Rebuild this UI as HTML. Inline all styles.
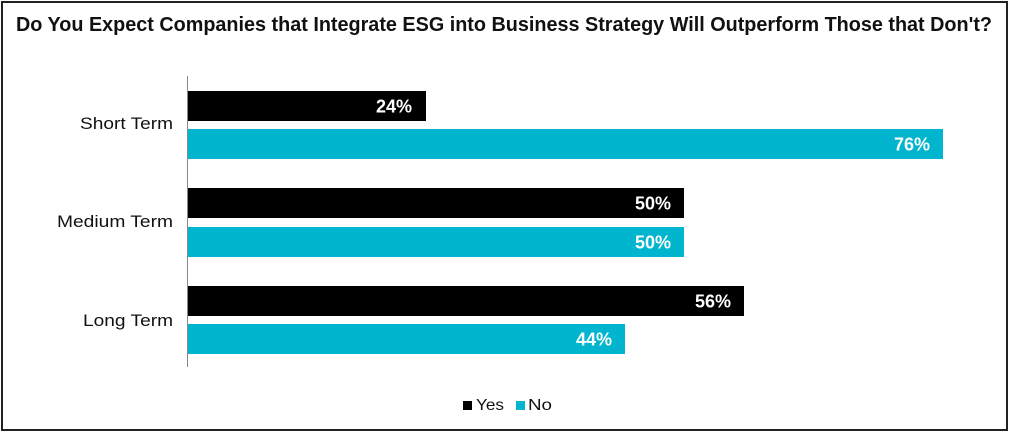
<!DOCTYPE html>
<html><head><meta charset="utf-8"><style>
html,body{margin:0;padding:0;background:#fff;}
svg{display:block;}
text{font-family:"Liberation Sans",Arial,sans-serif;}
</style></head><body>
<svg width="1009" height="433" viewBox="0 0 1009 433" xmlns="http://www.w3.org/2000/svg">
<rect x="0" y="0" width="1009" height="433" fill="#fff"/>
<rect x="2" y="2" width="1005" height="428" fill="none" stroke="#222" stroke-width="2"/>
<text x="16" y="31" font-size="20" font-weight="bold" fill="#111" textLength="976" lengthAdjust="spacingAndGlyphs">Do You Expect Companies that Integrate ESG into Business Strategy Will Outperform Those that Don't?</text>
<!-- axis -->
<line x1="187.5" y1="76" x2="187.5" y2="367" stroke="#888" stroke-width="1"/>
<!-- bars -->
<rect x="188" y="91" width="238" height="30" fill="#000"/>
<rect x="188" y="129" width="755" height="30" fill="#00B5CD"/>
<rect x="188" y="188" width="496" height="30" fill="#000"/>
<rect x="188" y="227" width="496" height="30" fill="#00B5CD"/>
<rect x="188" y="286" width="556" height="30" fill="#000"/>
<rect x="188" y="324" width="437" height="30" fill="#00B5CD"/>
<!-- value labels -->
<g font-size="18" font-weight="bold" fill="#fff" text-anchor="end">
<text x="412" y="112.5">24%</text>
<text x="930" y="150.5">76%</text>
<text x="671" y="209.5">50%</text>
<text x="671" y="248.5">50%</text>
<text x="731" y="307.5">56%</text>
<text x="612" y="345.5">44%</text>
</g>
<!-- category labels -->
<g font-size="17" fill="#111">
<text x="80" y="129" textLength="93" lengthAdjust="spacingAndGlyphs">Short Term</text>
<text x="57" y="227" textLength="116" lengthAdjust="spacingAndGlyphs">Medium Term</text>
<text x="83" y="326" textLength="90" lengthAdjust="spacingAndGlyphs">Long Term</text>
</g>
<!-- legend -->
<rect x="463" y="401" width="9" height="9" fill="#000"/>
<text x="476" y="410" font-size="16" fill="#111" textLength="28" lengthAdjust="spacingAndGlyphs">Yes</text>
<rect x="516" y="401" width="9" height="9" fill="#00B5CD"/>
<text x="528" y="410" font-size="16" fill="#111" textLength="24" lengthAdjust="spacingAndGlyphs">No</text>
</svg>
</body></html>
